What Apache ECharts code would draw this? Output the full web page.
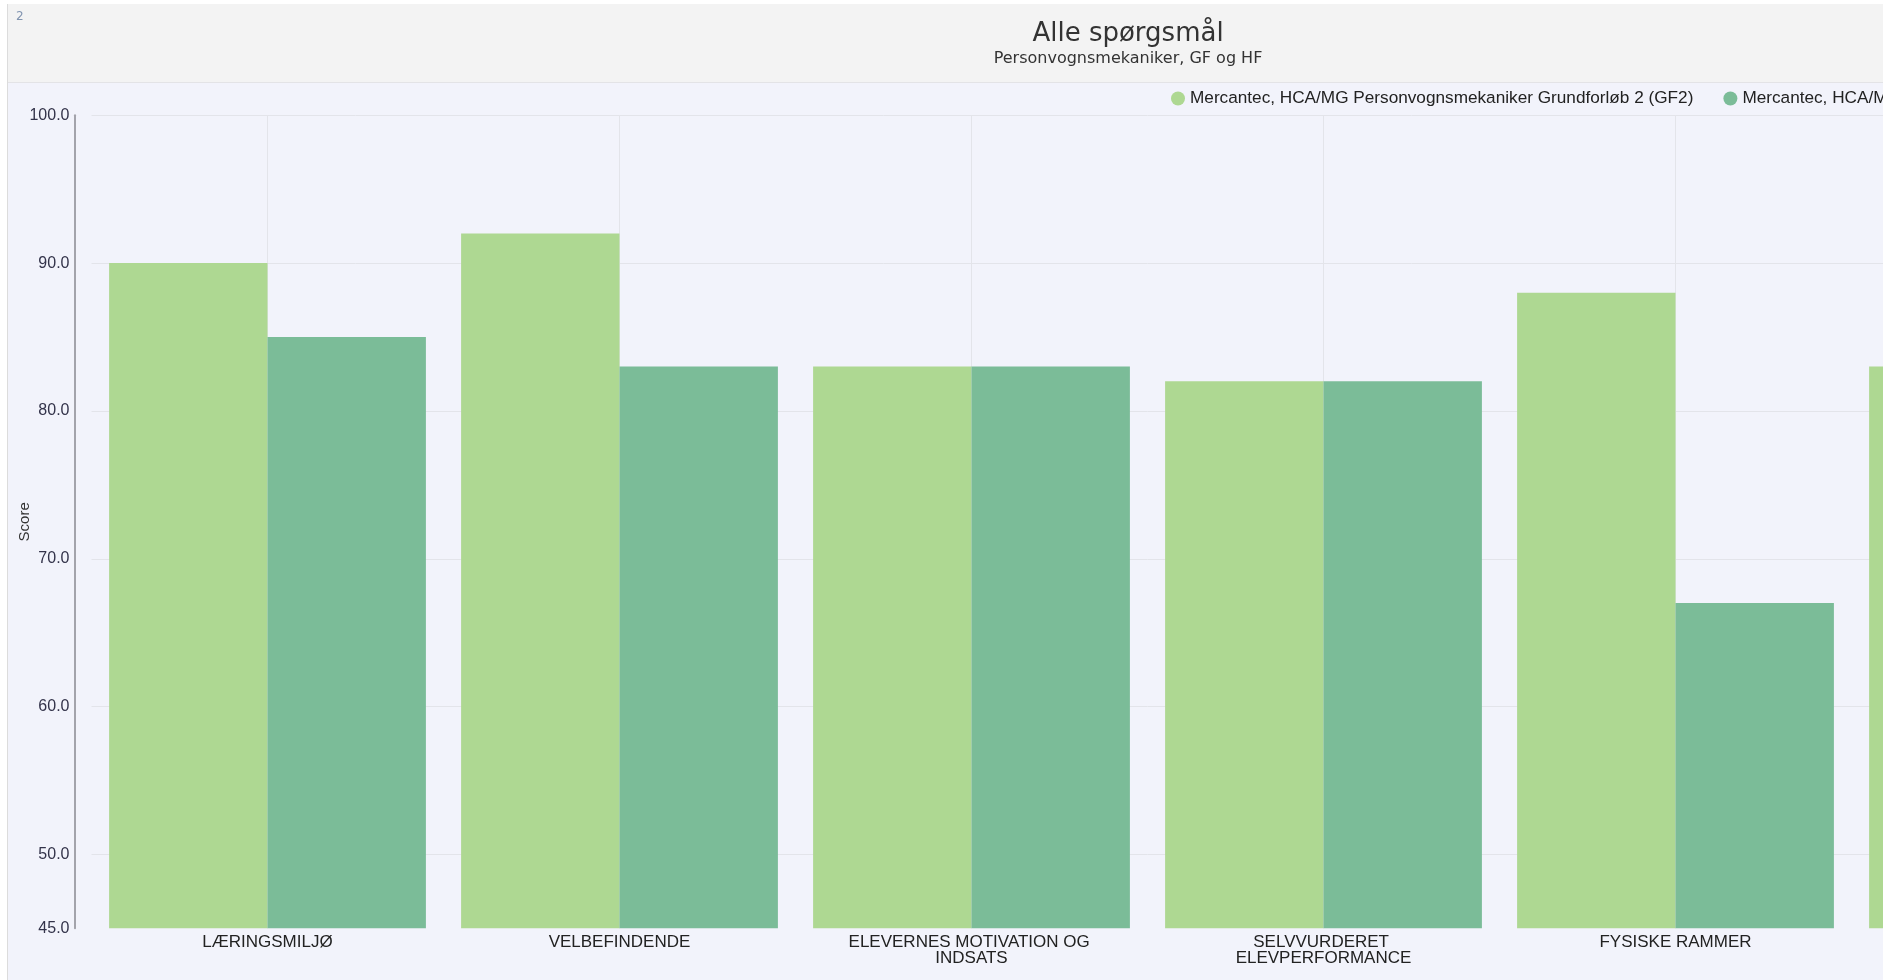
<!DOCTYPE html>
<html><head><meta charset="utf-8">
<script src="https://cdn.jsdelivr.net/npm/echarts@6/dist/echarts.min.js"></script>
<style>
html,body{margin:0;padding:0;background:#fff;overflow:hidden;width:1883px;height:980px;}
#wrap{position:absolute;left:7px;top:4px;width:2240px;height:976px;border-left:1px solid #dcdcdc;}
#chart{width:2240px;height:976px;}
</style></head><body>
<div id="wrap"><div id="chart"></div></div>
<script>
const categories = ['LÆRINGSMILJØ', 'VELBEFINDENDE', 'ELEVERNES MOTIVATION OG INDSATS', 'SELVVURDERET ELEVPERFORMANCE', 'FYSISKE RAMMER', 'UNDERVISNING'];
const seriesNames = ['Mercantec, HCA/MG Personvognsmekaniker Grundforløb 2 (GF2)', 'Mercantec, HCA/MG Personvognsmekaniker Hovedforløb (HF)'];
const gf2Values = [90, 92, 83, 82, 88, 83];
const hfValues = [85, 83, 83, 82, 67, 80];
const yLabelValues = [45, 50, 60, 70, 80, 90, 100];
const yGridValues = [50, 60, 70, 80, 90, 100];

const chart = echarts.init(document.getElementById('chart'), null, {renderer: 'canvas'});
const W = 2240;
chart.setOption({
  backgroundColor: '#f2f3fb',
  animation: false,
  graphic: [
    {type: 'rect', z: -10, shape: {x: 0, y: 0, width: W, height: 78}, style: {fill: '#f3f3f3'}},
    {type: 'rect', z: -10, shape: {x: 0, y: 78, width: W, height: 1}, style: {fill: '#e3e3e6'}},
    {type: 'text', left: 8, top: 7, style: {text: '2', fontSize: 12, fill: '#8194b0', fontFamily: 'DejaVu Sans'}}
  ],
  title: {
    text: 'Alle spørgsmål',
    subtext: 'Personvognsmekaniker, GF og HF',
    left: 'center',
    top: 12,
    itemGap: 4,
    textStyle: {fontSize: 26, fontWeight: 'normal', color: '#333', fontFamily: 'DejaVu Sans'},
    subtextStyle: {fontSize: 16, color: '#333', fontFamily: 'DejaVu Sans'}
  },
  legend: {
    left: 1158,
    top: 81,
    itemWidth: 14,
    itemHeight: 14,
    itemGap: 30,
    icon: 'circle',
    textStyle: {fontSize: 17.2, color: '#222', fontFamily: 'Liberation Sans'},
    data: seriesNames
  },
  grid: {left: 83.5, top: 111.3, right: 44.5, bottom: 51.7, containLabel: false, outerBoundsMode: 'none'},
  xAxis: {
    type: 'category',
    data: categories,
    axisLine: {show: false},
    axisTick: {show: false},
    splitLine: {show: true, alignWithLabel: true, lineStyle: {color: '#e3e4ea', width: 1}},
    axisLabel: {
      interval: 0, fontSize: 17, color: '#222', fontFamily: 'Liberation Sans',
      width: 280, overflow: 'break', lineHeight: 16, margin: 6
    }
  },
  yAxis: {
    type: 'value',
    min: 45,
    max: 100,
    offset: 17,
    name: 'Score',
    nameLocation: 'middle',
    nameGap: 42,
    nameMoveOverlap: false,
    nameTextStyle: {fontSize: 15, color: '#333', fontFamily: 'Liberation Sans'},
    axisLine: {show: true, lineStyle: {color: '#a3a3ab', width: 2}},
    axisTick: {show: false, customValues: yGridValues},
    axisLabel: {
      customValues: yLabelValues,
      formatter: v => Number(v).toFixed(1),
      fontSize: 16, color: '#33334a', fontFamily: 'Liberation Sans', margin: 5
    },
    splitLine: {show: true, lineStyle: {color: '#e3e4ea', width: 1}}
  },
  series: [
    {name: seriesNames[0], type: 'bar', data: gf2Values, barGap: '0%', barCategoryGap: '10%', itemStyle: {color: '#aed892'}},
    {name: seriesNames[1], type: 'bar', data: hfValues, barGap: '0%', barCategoryGap: '10%', itemStyle: {color: '#7bbc98'}}
  ]
});
</script>
</body></html>
